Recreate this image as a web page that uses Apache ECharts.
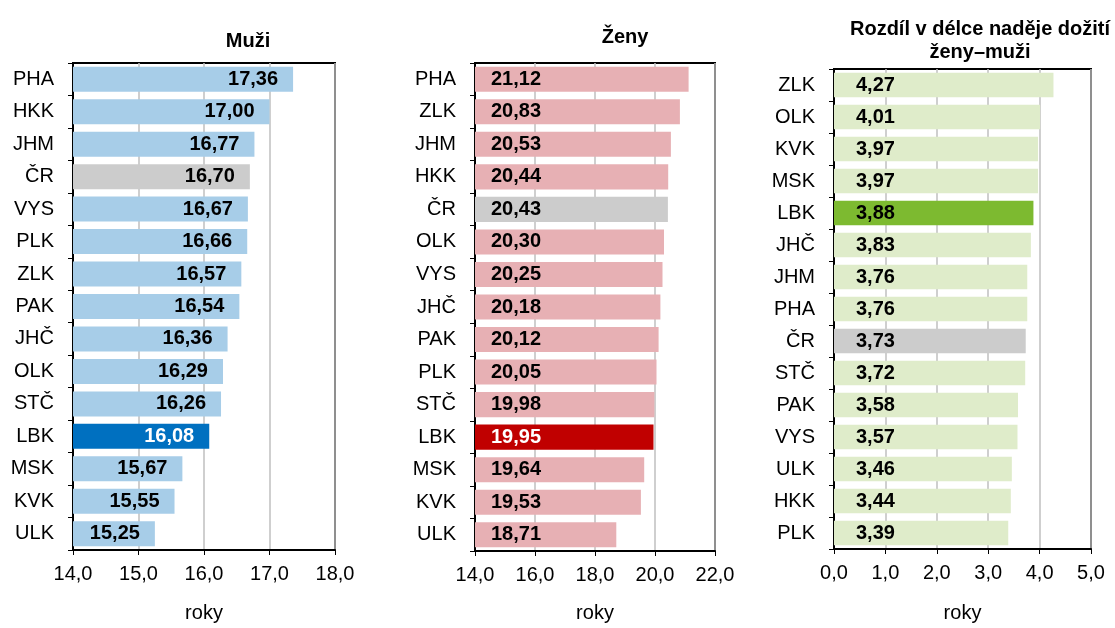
<!DOCTYPE html>
<html><head><meta charset="utf-8">
<script src="https://cdn.jsdelivr.net/npm/echarts@6/dist/echarts.min.js"></script>
<style>html,body{margin:0;padding:0;background:#fff}#c{width:1115px;height:628px}</style>
</head><body><div id="c"></div>
<script>
const catM = ['PHA','HKK','JHM','ČR','VYS','PLK','ZLK','PAK','JHČ','OLK','STČ','LBK','MSK','KVK','ULK'];
const valM = [17.36,17.00,16.77,16.70,16.67,16.66,16.57,16.54,16.36,16.29,16.26,16.08,15.67,15.55,15.25];
const catZ = ['PHA','ZLK','JHM','HKK','ČR','OLK','VYS','JHČ','PAK','PLK','STČ','LBK','MSK','KVK','ULK'];
const valZ = [21.12,20.83,20.53,20.44,20.43,20.30,20.25,20.18,20.12,20.05,19.98,19.95,19.64,19.53,18.71];
const catD = ['ZLK','OLK','KVK','MSK','LBK','JHČ','JHM','PHA','ČR','STČ','PAK','VYS','ULK','HKK','PLK'];
const valD = [4.27,4.01,3.97,3.97,3.88,3.83,3.76,3.76,3.73,3.72,3.58,3.57,3.46,3.44,3.39];
const titles = ['Muži','Ženy','Rozdíl v délce naděje dožití\nženy–muži'];
const axisName = 'roky';

const F = 'Liberation Sans, Arial, sans-serif';
const FS = 20;
const fmt = v => v.toFixed(2).replace('.', ',');
const fmt1 = v => Number(v).toFixed(1).replace('.', ',');

function colored(cats, vals, base, lbk, cr, lbkText) {
  return vals.map((v, i) => {
    let c = base, tc = '#000';
    if (cats[i] === 'LBK') { c = lbk; tc = lbkText; }
    else if (cats[i] === 'ČR') c = cr;
    return { value: v, itemStyle: { color: c }, label: { color: tc } };
  });
}

const grids = [
  { left: 73, top: 63, width: 262, height: 487 },
  { left: 475, top: 63, width: 240, height: 490 },
  { left: 834, top: 69, width: 257, height: 485 }
];
const ranges = [[14, 18, 1], [14, 22, 2], [0, 5, 1]];
const nameGaps = [53, 52, 54];

const tStyle = { fontFamily: F, fontSize: FS, fontWeight: 'bold', color: '#000' };
const option = {
  animation: false,
  textStyle: { fontFamily: F },
  title: [
    { text: titles[0], left: 243, top: 26, textAlign: 'center', textStyle: tStyle },
    { text: titles[1], left: 620, top: 22, textAlign: 'center', textStyle: tStyle },
    { text: titles[2], left: 975, top: 13, textAlign: 'center', textStyle: Object.assign({ lineHeight: 23 }, tStyle) }
  ],
  grid: grids.map(g => Object.assign({ show: true, borderColor: '#000', borderWidth: 2, backgroundColor: 'transparent' }, g)),
  xAxis: ranges.map((r, i) => ({
    type: 'value', gridIndex: i, min: r[0], max: r[1], interval: r[2],
    name: axisName, nameLocation: 'middle', nameGap: nameGaps[i],
    nameTextStyle: { fontFamily: F, fontSize: FS, color: '#000' },
    axisLine: { show: true, lineStyle: { color: '#000', width: 2 } },
    axisTick: { show: true, length: 5, lineStyle: { color: '#000' } },
    axisLabel: { formatter: fmt1, fontFamily: F, fontSize: FS, color: '#000', margin: 14 },
    splitLine: { show: true, lineStyle: { color: '#bfbfbf', width: 1.5 } }
  })),
  yAxis: [catM, catZ, catD].map((c, i) => ({
    type: 'category', gridIndex: i, data: c, inverse: true,
    axisLine: { show: true, lineStyle: { color: '#000', width: 2 } },
    axisTick: { show: true, length: 5, lineStyle: { color: '#000' } },
    axisLabel: { fontFamily: F, fontSize: FS, color: '#000', margin: 19 },
    splitLine: { show: false }
  })),
  series: [
    { type: 'bar', xAxisIndex: 0, yAxisIndex: 0, barCategoryGap: '23%',
      data: colored(catM, valM, '#a7cde8', '#0070c0', '#cccccc', '#fff'),
      label: { show: true, position: 'insideRight', distance: 15, formatter: p => fmt(p.value), fontFamily: F, fontSize: FS, fontWeight: 'bold' } },
    { type: 'bar', xAxisIndex: 1, yAxisIndex: 1, barCategoryGap: '23%',
      data: colored(catZ, valZ, '#e7b0b4', '#c00000', '#cccccc', '#fff'),
      label: { show: true, position: 'insideLeft', distance: 16, formatter: p => fmt(p.value), fontFamily: F, fontSize: FS, fontWeight: 'bold' } },
    { type: 'bar', xAxisIndex: 2, yAxisIndex: 2, barCategoryGap: '23%',
      data: colored(catD, valD, '#dfecca', '#7dba30', '#cccccc', '#000'),
      label: { show: true, position: 'insideLeft', distance: 22, formatter: p => fmt(p.value), fontFamily: F, fontSize: FS, fontWeight: 'bold' } }
  ]
};
echarts.init(document.getElementById('c'), null, { renderer: 'canvas' }).setOption(option);
</script>
</body></html>
